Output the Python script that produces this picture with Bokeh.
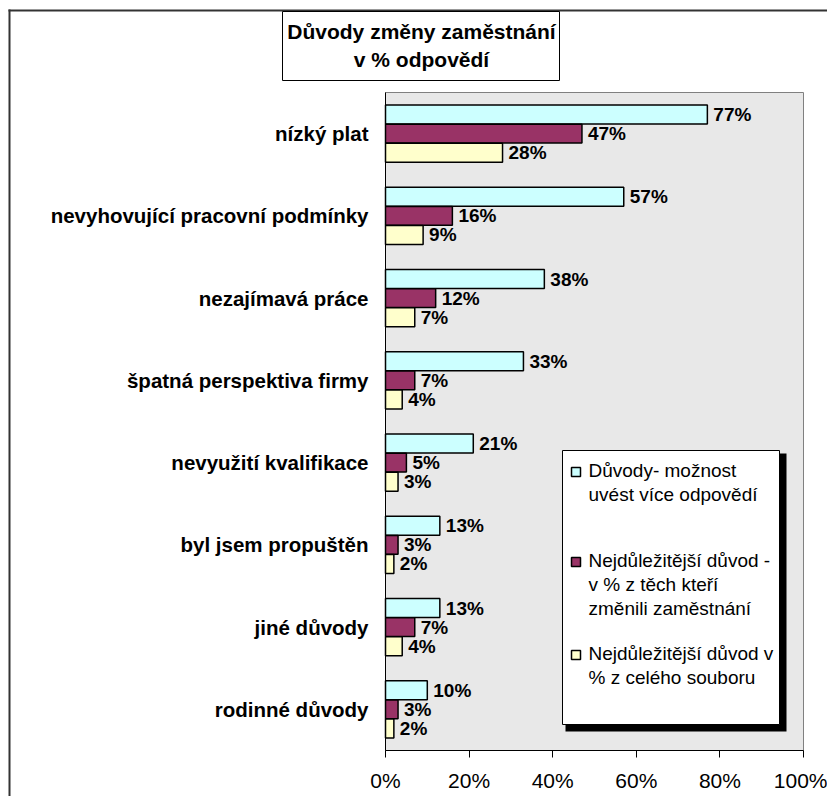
from bokeh.plotting import figure
from bokeh.models import (Range1d, BoxAnnotation, Label,
                          PrintfTickFormatter, FixedTicker, ColumnDataSource)
from bokeh.core.properties import value
from bokeh.embed import file_html
from bokeh.resources import INLINE

FONT = "Liberation Sans"

# ---------------- data ----------------
categories = ["nízký plat", "nevyhovující pracovní podmínky", "nezajímavá práce",
              "špatná perspektiva firmy", "nevyužití kvalifikace", "byl jsem propuštěn",
              "jiné důvody", "rodinné důvody"]
multi_answers = [77, 57, 38, 33, 21, 13, 13, 10]
top_of_changed = [47, 16, 12, 7, 5, 3, 7, 3]
top_of_all = [28, 9, 7, 4, 3, 2, 4, 2]

series_lines = [["Důvody- možnost", "uvést více odpovědí"],
                ["Nejdůležitější důvod -", "v % z těch kteří", "změnili zaměstnání"],
                ["Nejdůležitější důvod v", "% z celého souboru"]]
title_lines = ["Důvody změny zaměstnání", "v % odpovědí"]
x_ticks = [0, 20, 40, 60, 80, 100]

colors = ["#CCFFFF", "#993366", "#FFFFCC"]

# ---------------- layout constants (pixels) ----------------
W, H = 827, 796
PLOT_L, PLOT_R, PLOT_T, PLOT_B = 385, 803, 92, 750
n = len(categories)
px_x = (PLOT_R - PLOT_L) / (x_ticks[-1] - x_ticks[0])
px_y = (PLOT_B - PLOT_T) / n
x_range = Range1d(-PLOT_L / px_x, (W - PLOT_L) / px_x)
y_range = Range1d(-(H - PLOT_B) / px_y, PLOT_B / px_y)

centers = [n - i - 0.5 for i in range(n)]
offsets = [0.232, 0.0, -0.232]

p = figure(width=W, height=H, x_range=x_range, y_range=y_range,
           output_backend="svg", toolbar_location=None,
           min_border_left=0, min_border_right=0,
           min_border_top=0, min_border_bottom=0)
p.background_fill_color = "white"
p.border_fill_color = "white"
p.outline_line_color = None
p.xgrid.visible = False
p.ygrid.visible = False

# plot area (textured grey in original)
p.add_layout(BoxAnnotation(left=x_ticks[0], right=x_ticks[-1], bottom=0, top=n,
                           fill_color="#e8e8e8", fill_alpha=1,
                           line_color="#808080", line_alpha=1, line_width=1,
                           level="underlay"))

for vals, off, col in zip([multi_answers, top_of_changed, top_of_all], offsets, colors):
    src = ColumnDataSource(dict(y=[c + off for c in centers], v=vals,
                                lab=[f"{v}%" for v in vals]))
    p.hbar(y="y", left=0, right="v", height=0.23, fill_color=col,
           line_color="black", line_width=1.5, source=src)
    p.text(x="v", y="y", text="lab", x_offset=6, text_align="left",
           text_baseline="middle", text_font=value(FONT), text_font_size="19px",
           text_font_style="bold", text_color="black", source=src)

# x axis
xa = p.xaxis[0]
xa.fixed_location = 0
xa.bounds = (x_ticks[0], x_ticks[-1])
xa.ticker = FixedTicker(ticks=x_ticks)
xa.formatter = PrintfTickFormatter(format="%d%%")
xa.major_label_text_font = FONT
xa.major_label_text_font_size = "21px"
xa.major_label_text_color = "black"
xa.major_tick_out = 7
xa.major_tick_in = 0
xa.minor_tick_out = 0
xa.minor_tick_in = 0
xa.axis_line_color = "black"
xa.major_tick_line_color = "black"
xa.major_label_standoff = 11

# y axis (categories)
ya = p.yaxis[0]
ya.fixed_location = 0
ya.bounds = (0, n)
ya.ticker = FixedTicker(ticks=centers)
ya.major_label_overrides = {c: cat for c, cat in zip(centers, categories)}
ya.major_tick_out = 0
ya.major_tick_in = 0
ya.minor_tick_out = 0
ya.minor_tick_in = 0
ya.axis_line_color = "black"
ya.major_label_standoff = 17
ya.major_label_text_font = FONT
ya.major_label_text_font_size = "20.5px"
ya.major_label_text_font_style = "bold"
ya.major_label_text_color = "black"


def cbox(l, r, t, b, **kw):
    return BoxAnnotation(left=l, right=r, top=t, bottom=b,
                         left_units="canvas", right_units="canvas",
                         top_units="canvas", bottom_units="canvas",
                         fill_alpha=1, line_alpha=1, **kw)


# outer chart border (left & top visible)
p.add_layout(cbox(8, 10, 9, H, fill_color="#333333", line_color=None))
p.add_layout(cbox(8, W, 9, 11, fill_color="#333333", line_color=None))

# title box
p.add_layout(cbox(282, 559, 11, 80, fill_color="white",
                  line_color="black", line_width=1))
for i, t in enumerate(title_lines):
    p.add_layout(Label(x=421, y=31 + 28 * i, x_units="canvas", y_units="canvas",
                       text=t, text_align="center", text_baseline="middle",
                       text_font=FONT, text_font_size="21px",
                       text_font_style="bold", text_color="black"))

# legend (with shadow)
p.add_layout(cbox(565, 786, 453, 731, fill_color="black", line_color=None))
p.add_layout(cbox(562, 779, 450, 724, fill_color="white",
                  line_color="black", line_width=1))
entry_y = [471, 561, 654]
for lines, col, y0 in zip(series_lines, colors, entry_y):
    p.add_layout(cbox(571, 580, y0 - 4, y0 + 5, fill_color=col,
                      line_color="black", line_width=1.5))
    for j, t in enumerate(lines):
        p.add_layout(Label(x=588, y=y0 - 1 + 24 * j, x_units="canvas", y_units="canvas",
                           text=t, text_align="left", text_baseline="middle",
                           text_font=FONT, text_font_size="19px",
                           text_color="black"))

open("out.html", "w").write(file_html(p, INLINE))
